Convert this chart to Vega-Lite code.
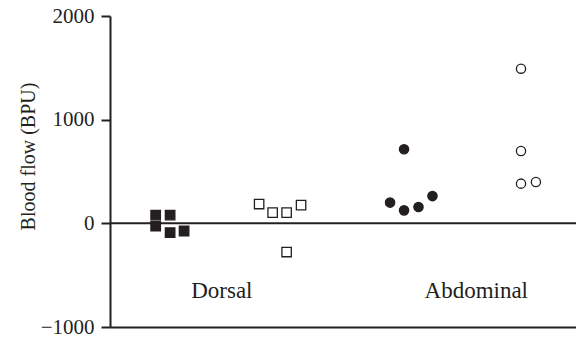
{
  "$schema": "https://vega.github.io/schema/vega-lite/v6.json",
  "width": 466,
  "height": 311,
  "autosize": {"type": "none"},
  "padding": {"left": 110, "top": 16, "right": 0, "bottom": 14},
  "background": "white",
  "config": {
    "view": {"stroke": null},
    "font": "Liberation Serif",
    "axis": {"grid": false}
  },
  "datasets": {
    "pts": [
      {"group": "Dorsal filled", "pos": 0.98, "flow": 80},
      {"group": "Dorsal filled", "pos": 1.29, "flow": 80},
      {"group": "Dorsal filled", "pos": 0.98, "flow": -26},
      {"group": "Dorsal filled", "pos": 1.29, "flow": -90},
      {"group": "Dorsal filled", "pos": 1.59, "flow": -74},
      {"group": "Dorsal open", "pos": 3.2, "flow": 186},
      {"group": "Dorsal open", "pos": 3.49, "flow": 103},
      {"group": "Dorsal open", "pos": 3.79, "flow": 103},
      {"group": "Dorsal open", "pos": 4.1, "flow": 176},
      {"group": "Dorsal open", "pos": 3.79, "flow": -277},
      {"group": "Abdominal filled", "pos": 6.01, "flow": 200},
      {"group": "Abdominal filled", "pos": 6.31, "flow": 125},
      {"group": "Abdominal filled", "pos": 6.62, "flow": 157},
      {"group": "Abdominal filled", "pos": 6.92, "flow": 263},
      {"group": "Abdominal filled", "pos": 6.31, "flow": 714},
      {"group": "Abdominal open", "pos": 8.82, "flow": 1492},
      {"group": "Abdominal open", "pos": 8.82, "flow": 697},
      {"group": "Abdominal open", "pos": 8.82, "flow": 383},
      {"group": "Abdominal open", "pos": 9.14, "flow": 398}
    ],
    "labels": [
      {"label": "Dorsal", "pos": 2.4, "flow": -720},
      {"label": "Abdominal", "pos": 7.86, "flow": -720}
    ]
  },
  "layer": [
    {
      "data": {"values": [{"flow": 0}]},
      "mark": {"type": "rule", "color": "#231f20", "strokeWidth": 2},
      "encoding": {
        "y": {"field": "flow", "type": "quantitative", "scale": {"domain": [-1000, 2000]}}
      }
    },
    {
      "data": {"name": "pts"},
      "mark": {"type": "point", "filled": true, "stroke": "#231f20", "strokeWidth": 1.3, "opacity": 1},
      "encoding": {
        "x": {
          "field": "pos", "type": "quantitative",
          "scale": {"domain": [0, 10], "nice": false, "zero": false},
          "axis": {"title": null, "labels": false, "ticks": false, "domainColor": "#231f20", "domainWidth": 2}
        },
        "y": {
          "field": "flow", "type": "quantitative",
          "scale": {"domain": [-1000, 2000], "nice": false},
          "axis": {
            "title": "Blood flow (BPU)",
            "values": [-1000, 0, 1000, 2000],
            "format": "d",
            "labelExpr": "datum.value < 0 ? '\u2212' + format(-datum.value, 'd') : format(datum.value, 'd')",
            "labelFont": "Liberation Serif", "labelFontSize": 21, "labelColor": "#231f20",
            "labelPadding": 7,
            "tickSize": 9, "tickWidth": 2, "tickColor": "#231f20",
            "domainColor": "#231f20", "domainWidth": 2,
            "titleFont": "Liberation Serif", "titleFontSize": 20, "titleFontWeight": "normal",
            "titleColor": "#231f20",
            "titleAngle": -90, "titleX": -82, "titleY": 140,
            "titleBaseline": "middle", "titleAlign": "center"
          }
        },
        "shape": {
          "field": "group", "type": "nominal", "legend": null,
          "scale": {"domain": ["Dorsal filled", "Dorsal open", "Abdominal filled", "Abdominal open"],
                    "range": ["square", "square", "circle", "circle"]}
        },
        "fill": {
          "field": "group", "type": "nominal", "legend": null,
          "scale": {"domain": ["Dorsal filled", "Dorsal open", "Abdominal filled", "Abdominal open"],
                    "range": ["#231f20", "#ffffff", "#231f20", "#ffffff"]}
        },
        "size": {
          "field": "group", "type": "nominal", "legend": null,
          "scale": {"domain": ["Dorsal filled", "Dorsal open", "Abdominal filled", "Abdominal open"],
                    "range": [90, 85, 95, 80]}
        }
      }
    },
    {
      "data": {"name": "labels"},
      "mark": {"type": "text", "font": "Liberation Serif", "fontSize": 23, "color": "#231f20", "baseline": "alphabetic", "align": "center"},
      "encoding": {
        "x": {"field": "pos", "type": "quantitative"},
        "y": {"field": "flow", "type": "quantitative"},
        "text": {"field": "label"}
      }
    }
  ]
}
